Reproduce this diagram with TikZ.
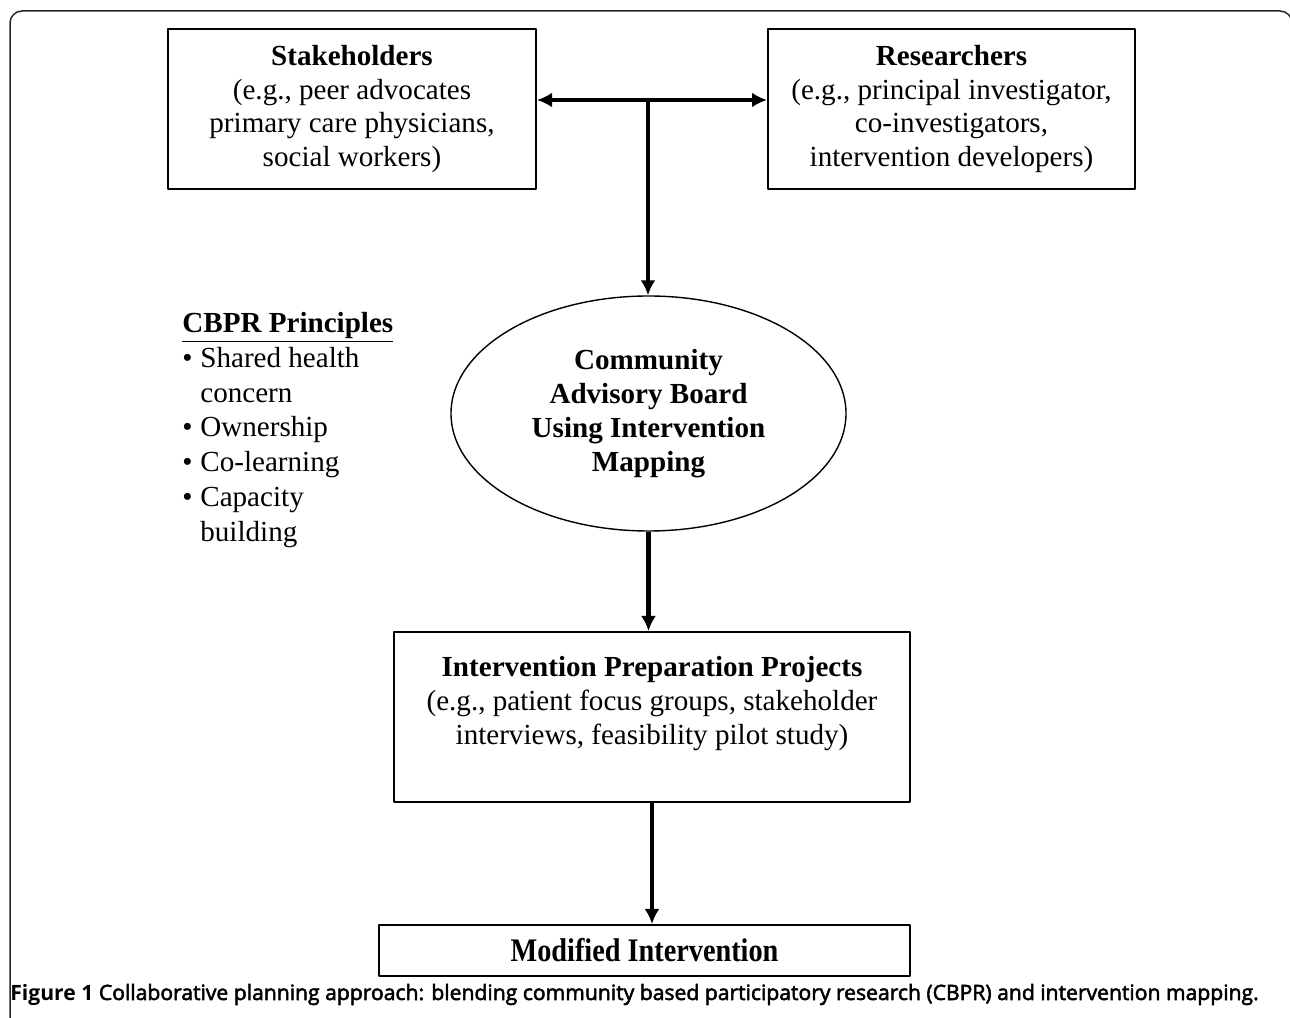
\documentclass[tikz,border=0pt]{standalone}
\usepackage{graphicx}
\usepackage{fontspec}
\setmainfont{Liberation Serif}
\newfontfamily\capfont{Open Sans}
\newfontfamily\capfontmed[FakeBold=2.5]{Open Sans}
\usetikzlibrary{arrows.meta,shapes.geometric}
\begin{document}
\begin{tikzpicture}[>={Latex[length=7.5bp,width=7.5bp]},line join=bevel,
  box/.style={draw,line width=1bp,align=center,inner sep=0pt},
  flow/.style={black,line width=2.2bp},
  every node/.style={font=\fontsize{14.6}{17}\selectfont}]
\useasboundingbox (0bp,0bp) rectangle (645bp,509bp);
%%
\draw [black!85,line width=0.75bp,rounded corners=6bp] (5bp,-2bp) -- (5bp,503.5bp) -- (646bp,503.5bp) -- (646bp,400bp);
%%
\node (node_stake) at (176bp,454.5bp) [box,minimum width=184bp,minimum height=80bp] {\textbf{Stakeholders}\\(e.g., peer advocates\\primary care physicians,\\social workers)};
  \node (node_res) at (475.75bp,454.5bp) [box,minimum width=183.5bp,minimum height=80bp] {\textbf{Researchers}\\(e.g., principal investigator,\\co-investigators,\\intervention developers)};
  \node (node_cab) at (324.25bp,302.25bp) [draw,ellipse,line width=0.7bp,minimum width=197.5bp,minimum height=117.5bp,inner sep=0pt,align=center,font=\fontsize{14.6}{17}\selectfont\bfseries] {Community\\Advisory Board\\Using Intervention\\Mapping};
  \node (node_ipp) at (326bp,150.5bp) [box,minimum width=258bp,minimum height=85bp] {\textbf{Intervention Preparation Projects}\\(e.g., patient focus groups, stakeholder\\interviews, feasibility pilot study)\\\mbox{}};
  \node (node_mod) at (322.25bp,33.75bp) [box,minimum width=265.5bp,minimum height=25.5bp] {\scalebox{0.86}[1]{\fontsize{16.5}{18}\selectfont\bfseries Modified Intervention}};
  \node (node_cbpr) at (91bp,294bp) [anchor=west,align=left,inner sep=0pt,font=\fontsize{14.6}{17.5}\selectfont] {\textbf{\underline{CBPR Principles}}\\\makebox[9bp][l]{\textbullet}Shared health\\\hspace*{9bp}concern\\\makebox[9bp][l]{\textbullet}Ownership\\\makebox[9bp][l]{\textbullet}Co-learning\\\makebox[9bp][l]{\textbullet}Capacity\\\hspace*{9bp}building};
  \coordinate (tee) at (324bp,459bp);
  \draw [flow,<->] (node_stake.east |- tee) -- (node_res.west |- tee);
  \draw [flow,->] (tee) -- (tee |- node_cab.north);
  \draw [flow,->] (node_cab.south) -- (node_cab.south |- node_ipp.north);
  \draw [flow,->] (node_ipp.south) -- (node_ipp.south |- node_mod.north);
%
\node (node_cap) at (5bp,9bp) [anchor=base west,inner sep=0pt,font=\fontsize{10.6}{12}\capfontmed] {{\capfont\bfseries Figure 1} Collaborative planning approach: blending community based participatory research (CBPR) and intervention mapping.};
\end{tikzpicture}
\end{document}
